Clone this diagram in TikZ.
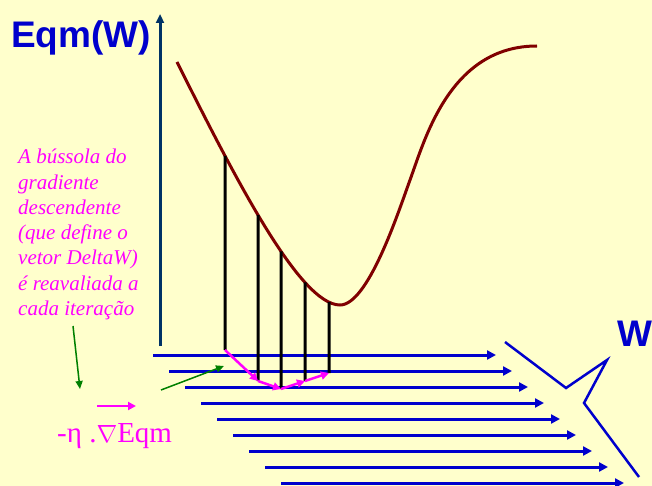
\documentclass[tikz,border=0pt]{standalone}
\usepackage{fontspec}
\setmainfont{Liberation Serif}
\newfontfamily\labelfont{Liberation Sans}
\usetikzlibrary{arrows.meta,intersections}
\definecolor{bgyellow}{RGB}{255,255,204}
\definecolor{wblue}{RGB}{0,0,204}
\definecolor{axisnavy}{RGB}{0,51,102}
\definecolor{curvered}{RGB}{128,0,0}
\definecolor{gradpink}{RGB}{255,0,255}
\definecolor{notegreen}{RGB}{0,128,0}

\begin{document}
\begin{tikzpicture}[x=1pt, y=-1pt,
    warrow/.style={-{Triangle[length=9pt,width=9pt]}, line width=3pt, wblue},
    steparrow/.style={-{Triangle[length=8pt,width=8pt]}, line width=2.5pt, gradpink},
    drop/.style={line width=3pt, black},
    notearrow/.style={-{Triangle[length=8pt,width=7pt]}, line width=1.5pt, notegreen}]
  % Background
  \fill[bgyellow] (0,0) rectangle (652,486);
  \useasboundingbox (0,0) rectangle (652,486);

  % Axis
  \draw[-{Triangle[length=9pt,width=8pt]}, line width=3pt, axisnavy]
    (160,346) -- (160,14);
  \node[font=\labelfont\bfseries\fontsize{37}{37}\selectfont, text=wblue,
    anchor=base west, inner sep=0] (eqm) at (11,48) {Eqm(W)};

  % Error curve
  \draw[line width=3pt, curvered, name path=curve]
    (177,62) .. controls (235,178) and (300,305) .. (340,305)
    .. controls (368,305) and (398,213) .. (410,180)
    .. controls (425,139) and (450,46) .. (537,46);

  % W axis (arrows in depth)
  \foreach \i in {0,...,8} {
    \draw[warrow] (153+16*\i, 355+16*\i) -- (496+16*\i, 355+16*\i);
  }
  \draw[line width=2.5pt, wblue, line join=miter]
    (505,342) -- (566,388) -- (607,360) -- (584,403) -- (639,477);
  \node[font=\labelfont\bfseries\fontsize{37}{37}\selectfont, text=wblue,
    anchor=base west, inner sep=0] (waxis) at (617,346) {W};

  % Iterations: curve points and feet
  \foreach \n/\x/\foot in {1/225/350, 2/258/381, 3/281/389, 4/305/381, 5/329/373} {
    \path[name path=v\n] (\x,0) -- (\x,486);
    \path[name intersections={of=curve and v\n, by=c\n}];
    \coordinate (f\n) at (\x,\foot);
    \draw[drop] (c\n) -- (f\n);
  }
  \foreach \a/\b in {1/2, 2/3, 3/4, 4/5} {
    \draw[steparrow] (f\a) -- (f\b);
  }

  % Note on the gradient compass
  \node[font=\itshape\fontsize{21}{25.3}\selectfont, text=gradpink,
    align=left, anchor=north west, inner sep=0] (note) at (18,149)
    {A bússola do\\gradiente\\descendente\\(que define o\\vetor DeltaW)\\é reavaliada a\\cada iteração};
  \coordinate (notefoot) at (73,326);
  \draw[notearrow] (notefoot) -- (80,389);
  \coordinate (gstart) at (161,390);
  \draw[notearrow] (gstart) -- (224,366);

  % Gradient step label
  \node[font=\fontsize{29}{29}\selectfont, text=gradpink,
    anchor=base west, inner sep=0] (grad) at (57,442) {-η .$\nabla$Eqm};
  \draw[steparrow, line width=2pt] (97,406) -- (136,406);
\end{tikzpicture}
\end{document}
